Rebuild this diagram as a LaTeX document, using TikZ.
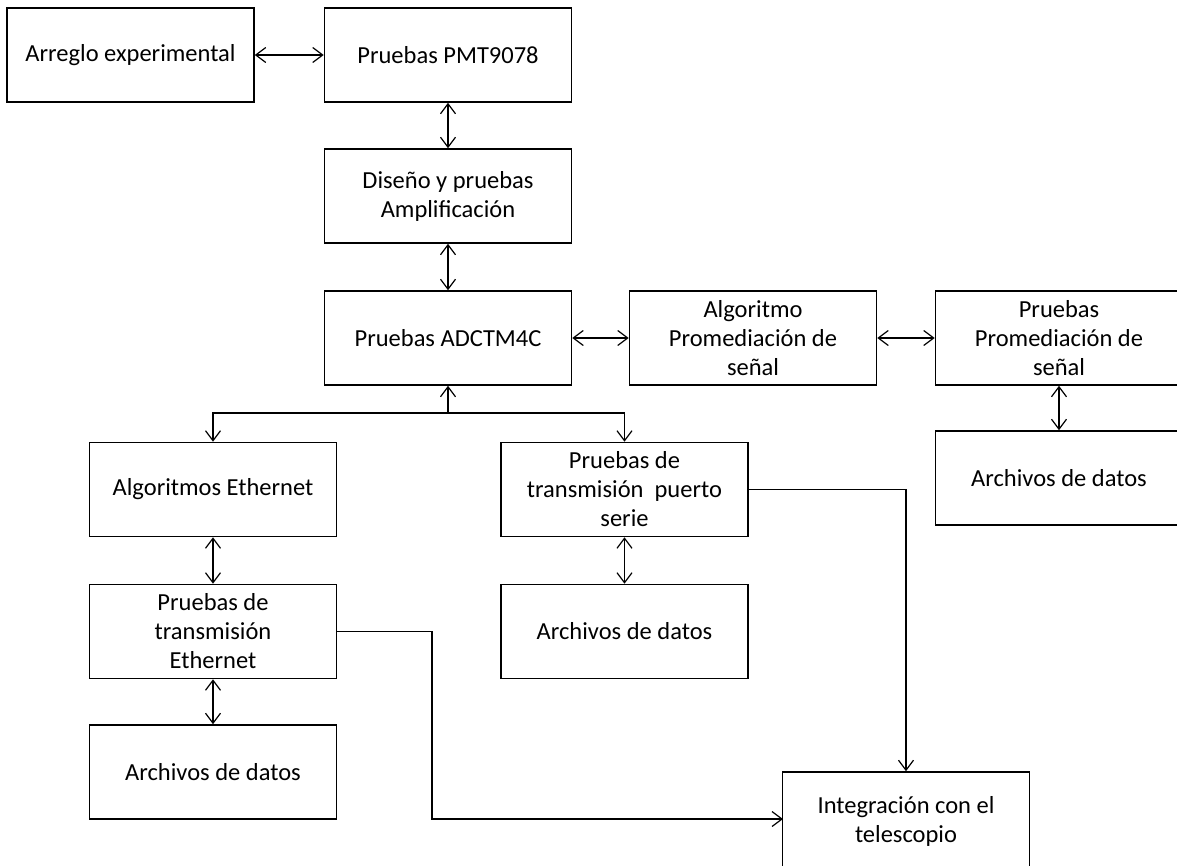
\documentclass[tikz,border=0pt]{standalone}
\usepackage{fontspec}
\setmainfont{Carlito}
\usetikzlibrary{arrows.meta}

\begin{document}
\begin{tikzpicture}[x=1pt,y=-1pt,>={Straight Barb[length=10pt,width=15pt]}]
\tikzstyle{blk} = [draw,line width=1.6pt,rectangle,inner sep=0pt,minimum width=247pt,minimum height=94pt,align=center,font=\fontsize{24.5}{29}\selectfont]
\tikzstyle{lnk} = [line width=1.2pt]
\useasboundingbox (0,0) rectangle (1177,865);
\clip (0,0) rectangle (1177,865);

%%%%%% Fila superior
\node[blk] (arreglo) at (130.5,55) {Arreglo experimental};
\node[blk] (pmt) at (448,55) {Pruebas PMT9078};
\node[blk] (diseno) at (448,196) {Diseño y pruebas\\Amplificación};

%%%%%% ADC y promediacion
\node[blk] (adc) at (448,338) {Pruebas ADCTM4C};
\node[blk] (algprom) at (753,338) {Algoritmo\\Promediación de\\señal};
\node[blk] (pruprom) at (1059,338) {Pruebas\\Promediación de\\señal};
\node[blk] (datosprom) at (1059,478) {Archivos de datos};

%%%%%% Ramas de transmision
\node[blk] (algeth) at (213,489.5) {Algoritmos Ethernet};
\node[blk] (serie) at (624.5,489.5) {Pruebas de\\transmisión\ \ puerto\\serie};
\node[blk] (prueth) at (213,631.5) {Pruebas de\\transmisión\\Ethernet};
\node[blk] (datosserie) at (624.5,631.5) {Archivos de datos};
\node[blk] (datoseth) at (213,772) {Archivos de datos};

%%%%%% Integracion
\node[blk,minimum height=98pt] (integ) at (906,821) {Integración con el\\telescopio};

%%%%%% Flechas
\draw[lnk,arrows=<->] (arreglo.east) -- (pmt.west);
\draw[lnk,arrows=<->] (pmt.south) -- (diseno.north);
\draw[lnk,arrows=<->] (diseno.south) -- (adc.north);
\draw[lnk,arrows=<->] (adc.east) -- (algprom.west);
\draw[lnk,arrows=<->] (algprom.east) -- (pruprom.west);
\draw[lnk,arrows=<->] (pruprom.south) -- (datosprom.north);

%bifurcacion
\coordinate (rama) at (448,413);
\draw[lnk,->] (rama) -- (adc.south);
\draw[lnk,->] (rama) -| (algeth.north);
\draw[lnk,->] (rama) -| (serie.north);

\draw[lnk,arrows=<->] (algeth.south) -- (prueth.north);
\draw[lnk,arrows=<->] (prueth.south) -- (datoseth.north);
\draw[lnk,arrows=<->] (serie.south) -- (datosserie.north);

%hacia el telescopio
\draw[lnk,->] (serie.east) -| (integ.north);
\coordinate (codo) at (432,631.5);
\coordinate (llegada) at (783,819);
\draw[lnk,->] (prueth.east) -- (codo) |- (llegada);
\end{tikzpicture}
\end{document}
